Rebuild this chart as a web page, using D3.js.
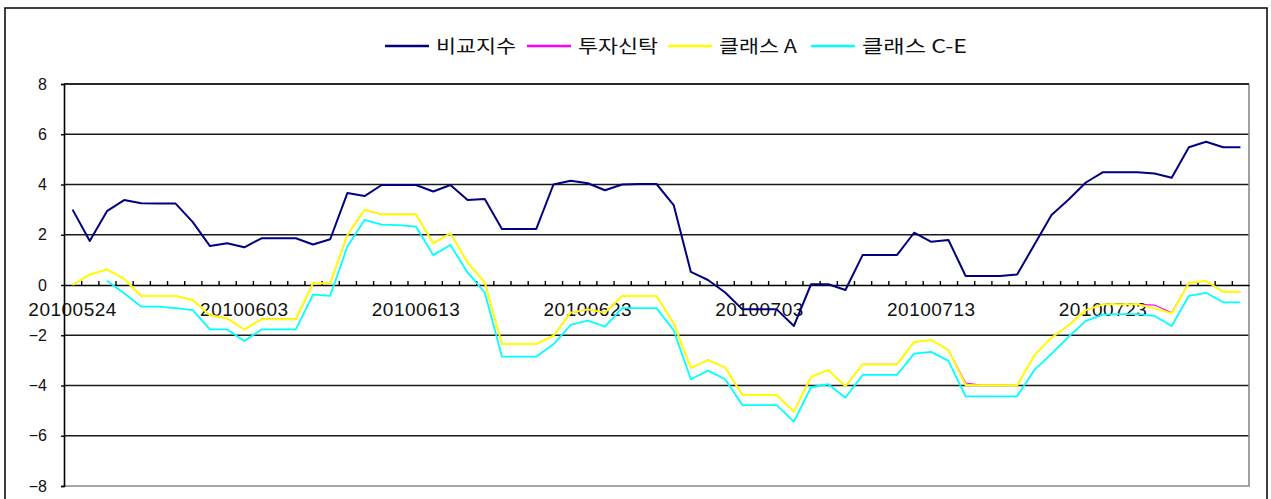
<!DOCTYPE html>
<html>
<head>
<meta charset="utf-8">
<script src="https://cdn.jsdelivr.net/npm/d3@7"></script>
<style>
  html, body { margin: 0; padding: 0; background: #fff; }
  svg { display: block; }
</style>
</head>
<body>
<svg id="chart" width="1271" height="499"></svg>
<script>
const categories = [
  "20100524","20100525","20100526","20100527","20100528","20100529","20100530","20100531",
  "20100601","20100602","20100603","20100604","20100605","20100606","20100607","20100608",
  "20100609","20100610","20100611","20100612","20100613","20100614","20100615","20100616",
  "20100617","20100618","20100619","20100620","20100621","20100622","20100623","20100624",
  "20100625","20100626","20100627","20100628","20100629","20100630","20100701","20100702",
  "20100703","20100704","20100705","20100706","20100707","20100708","20100709","20100710",
  "20100711","20100712","20100713","20100714","20100715","20100716","20100717","20100718",
  "20100719","20100720","20100721","20100722","20100723","20100724","20100725","20100726",
  "20100727","20100728","20100729","20100730","20100731"
];
const tickLabels = ["20100524","20100603","20100613","20100623","20100703","20100713","20100723"];
const yTicks = [-8, -6, -4, -2, 0, 2, 4, 6, 8];
const seriesNames = ["비교지수", "투자신탁", "클래스 A", "클래스 C-E"];

const benchmark = [
  3.0, 1.75, 2.94, 3.38, 3.25, 3.24, 3.24, 2.5, 1.55, 1.66,
  1.5, 1.86, 1.86, 1.86, 1.61, 1.82, 3.66, 3.54, 3.98, 3.98,
  3.98, 3.72, 3.98, 3.38, 3.42, 2.23, 2.23, 2.23, 4.0, 4.15,
  4.05, 3.77, 4.0, 4.02, 4.02, 3.18, 0.52, 0.2, -0.3, -0.97,
  -0.97, -0.97, -1.63, 0.03, 0.03, -0.2, 1.19, 1.19, 1.19, 2.08,
  1.72, 1.79, 0.36, 0.36, 0.36, 0.42, 1.6, 2.79, 3.4, 4.08,
  4.49, 4.49, 4.49, 4.44, 4.27, 5.48, 5.7, 5.48, 5.48
];
const fund = [
  0.0, 0.42, 0.62, 0.25, -0.44, -0.44, -0.44, -0.6, -1.2, -1.33,
  -1.77, -1.36, -1.36, -1.36, 0.07, 0.07, 1.99, 2.99, 2.81, 2.81,
  2.81, 1.66, 2.06, 0.9, 0.1, -2.35, -2.35, -2.35, -2.02, -1.1,
  -0.97, -1.1, -0.44, -0.44, -0.44, -1.52, -3.3, -2.99, -3.28, -4.38,
  -4.38, -4.38, -5.04, -3.65, -3.38, -4.03, -3.16, -3.16, -3.16, -2.27,
  -2.19, -2.59, -3.9, -3.99, -3.99, -4.0, -2.8, -2.1, -1.6, -1.0,
  -0.77, -0.77, -0.77, -0.8, -1.1, 0.09, 0.16, -0.27, -0.27
];
const classA = [
  0.0, 0.42, 0.62, 0.25, -0.44, -0.44, -0.44, -0.6, -1.2, -1.33,
  -1.77, -1.36, -1.36, -1.36, 0.07, 0.07, 1.99, 2.99, 2.81, 2.81,
  2.81, 1.66, 2.06, 0.9, 0.1, -2.35, -2.35, -2.35, -2.02, -1.1,
  -0.97, -1.1, -0.44, -0.44, -0.44, -1.52, -3.3, -2.99, -3.28, -4.38,
  -4.38, -4.38, -5.04, -3.65, -3.38, -4.03, -3.16, -3.16, -3.16, -2.27,
  -2.19, -2.59, -3.99, -3.99, -3.99, -4.0, -2.8, -2.1, -1.6, -1.0,
  -0.77, -0.77, -0.77, -0.93, -1.13, 0.09, 0.16, -0.27, -0.27
];
const classCE = [
  null, null, 0.17, -0.33, -0.86, -0.86, -0.92, -1.0, -1.77, -1.77,
  -2.23, -1.77, -1.77, -1.77, -0.38, -0.43, 1.53, 2.59, 2.4, 2.38,
  2.32, 1.19, 1.59, 0.5, -0.3, -2.85, -2.85, -2.85, -2.36, -1.59,
  -1.42, -1.66, -0.92, -0.92, -0.92, -1.8, -3.75, -3.41, -3.75, -4.78,
  -4.78, -4.78, -5.44, -4.07, -3.95, -4.49, -3.58, -3.58, -3.58, -2.73,
  -2.66, -3.02, -4.43, -4.43, -4.43, -4.43, -3.38, -2.74, -2.06, -1.43,
  -1.18, -1.16, -1.16, -1.23, -1.63, -0.43, -0.31, -0.69, -0.69
];
const seriesColors = ["#000080", "#FF00FF", "#FFFF00", "#00FFFF"];

// ---------- layout ----------
const svg = d3.select("#chart");
const plot = { left: 64, right: 1249, top: 84, bottom: 486 };

// outer frame
svg.append("rect")
  .attr("x", 5).attr("y", 8).attr("width", 1262).attr("height", 520)
  .attr("fill", "#fff").attr("stroke", "#000").attr("stroke-width", 1.5);

const x = d3.scaleBand().domain(categories).range([plot.left, plot.right]).padding(0);
const xIdx = d3.scaleLinear().domain([0, categories.length]).range([plot.left, plot.right]);
const y = d3.scaleLinear().domain([-8, 8]).range([plot.bottom, plot.top]);

// gridlines
svg.append("g").selectAll("line")
  .data(yTicks.filter(v => v !== 0 && v !== -8))
  .join("line")
  .attr("x1", plot.left).attr("x2", plot.right)
  .attr("y1", d => y(d)).attr("y2", d => y(d))
  .attr("stroke", "#1a1a1a").attr("stroke-width", 1.7);

// plot area border (right and bottom, gray)
svg.append("path")
  .attr("d", `M${plot.left},${y(-8)}H${plot.right}V${plot.top}`)
  .attr("fill", "none").attr("stroke", "#8a8a8a").attr("stroke-width", 1.6);

// x labels (drawn beneath lines and axis)
const xLabelAxis = d3.axisBottom(x).tickValues(tickLabels).tickSize(0).tickPadding(17.5);
const gxl = svg.append("g").attr("transform", `translate(0,${y(0)})`).call(xLabelAxis);
gxl.select(".domain").remove();
gxl.selectAll("text")
  .attr("font-family", "Liberation Sans, Arial, sans-serif")
  .attr("font-size", 19).attr("letter-spacing", 0.5).attr("fill", "#111");

// y axis
const yAxis = d3.axisLeft(y).tickValues(yTicks).tickSize(3).tickPadding(14);
const gy = svg.append("g").attr("transform", `translate(${plot.left},0)`).call(yAxis);
gy.select(".domain").attr("stroke", "#000").attr("stroke-width", 1.6);
gy.selectAll(".tick line").attr("stroke", "#000").attr("stroke-width", 1.4);
gy.selectAll("text")
  .attr("font-family", "Liberation Sans, Arial, sans-serif")
  .attr("font-size", 16).attr("fill", "#111");

// x axis line with inside ticks at category boundaries
const tickAxis = d3.axisBottom(xIdx)
  .tickValues(d3.range(1, categories.length))
  .tickSize(-4).tickSizeOuter(0).tickFormat("");
const gx = svg.append("g").attr("transform", `translate(0,${y(0)})`).call(tickAxis);
gx.select(".domain").attr("stroke", "#000").attr("stroke-width", 1.7);
gx.selectAll(".tick line").attr("stroke", "#000").attr("stroke-width", 1.4);

// top border of plot (8 gridline)
svg.append("line")
  .attr("x1", plot.left).attr("x2", plot.right)
  .attr("y1", y(8)).attr("y2", y(8))
  .attr("stroke", "#1a1a1a").attr("stroke-width", 1.7);

// series lines
const seriesData = [benchmark, fund, classA, classCE];
const seriesWidths = [2, 1.1, 2, 1.8];
const line = d3.line()
  .defined(d => d.v !== null)
  .x(d => x(d.c) + x.bandwidth() / 2)
  .y(d => y(d.v));
seriesData.forEach((vals, k) => {
  const pts = categories.map((c, i) => ({ c, v: vals[i] }));
  svg.append("path")
    .datum(pts)
    .attr("d", line)
    .attr("fill", "none")
    .attr("stroke", seriesColors[k])
    .attr("stroke-width", seriesWidths[k])
    .attr("stroke-linejoin", "round");
});

// legend
const legendLineX = [385, 527, 668, 811];
const legendTextLen = [80, 80, 78, 105];
const legendY = 46;
const lg = svg.append("g");
seriesNames.forEach((name, k) => {
  lg.append("line")
    .attr("x1", legendLineX[k]).attr("x2", legendLineX[k] + 44)
    .attr("y1", legendY).attr("y2", legendY)
    .attr("stroke", seriesColors[k]).attr("stroke-width", 2.5);
  lg.append("text")
    .attr("x", legendLineX[k] + 51).attr("y", legendY + 7)
    .attr("font-family", "Noto Sans CJK KR, sans-serif")
    .attr("font-size", 18).attr("fill", "#111")
    .attr("textLength", legendTextLen[k]).attr("lengthAdjust", "spacingAndGlyphs")
    .text(name);
});
</script>
</body>
</html>
